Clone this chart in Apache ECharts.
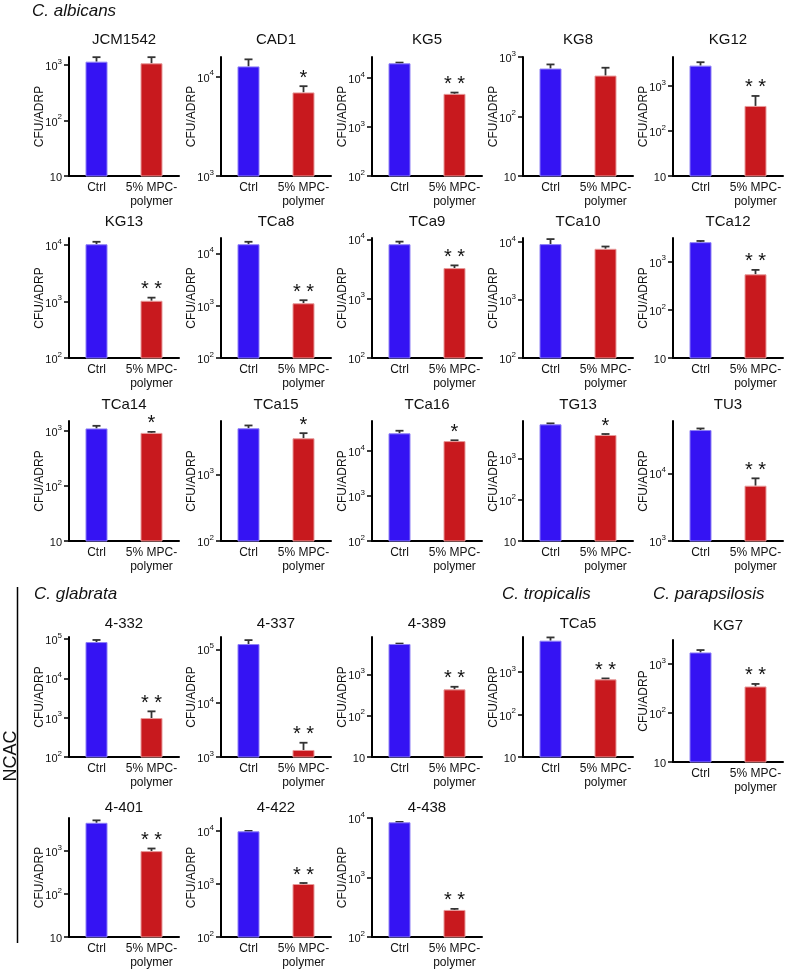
<!DOCTYPE html>
<html>
<head>
<meta charset="utf-8">
<script src="https://cdn.jsdelivr.net/npm/echarts@6/dist/echarts.min.js"></script>
<style>
html,body{margin:0;padding:0;background:#fff;}
#main{width:787px;height:970px;}
</style>
</head>
<body>
<div id="main"></div>
<script>
// data (CFU/ADRP, log scale)
var groups = ['Ctrl', '5% MPC-\npolymer'];
var strains = ['JCM1542','CAD1','KG5','KG8','KG12',
               'KG13','TCa8','TCa9','TCa10','TCa12',
               'TCa14','TCa15','TCa16','TG13','TU3',
               '4-332','4-337','4-389','TCa5','KG7',
               '4-401','4-422','4-438'];
var ctrlMean   = [1145,12700,20200,640,2830, 10300,14900,8240,9250,2540, 1120,4900,24700,7000,43600, 84000,125000,5420,5450,1740, 4560,9860,8470];
var ctrlErrTop = [1380,14960,20900,750,3370, 11400,16600,9120,11300,2690, 1250,5400,28200,7400,46000, 95000,148000,5550,6500,1950, 5200,10050,8600];
var mpcMean    = [1070,6950,4790,487,360, 1030,1110,3270,7680,546, 930,3470,16600,3850,6560, 980,1350,433,670,350, 1000,1000,285];
var mpcErrTop  = [1380,8030,5090,660,600, 1170,1270,3630,8410,675, 970,4140,17300,4070,8430, 1450,1840,500,705,395, 1150,1045,297];
var stars = ['','*','**','','**', '**','**','**','','**', '*','*','*','*','**', '**','**','**','**','**', '**','**','**'];
var yMin = [10,1000,100,10,10, 100,100,100,100,10, 10,100,100,10,1000, 100,1000,10,10,10, 10,100,100];
var yMax = [1390,15800,27200,1000,4400, 13300,19600,10500,11800,3100, 1530,6300,46400,8450,59300, 113000,169000,8000,6650,3130, 5900,17600,10000];

// layout
var colX = [69, 221, 372, 523, 673];
var rowTop = [57, 238, 421, 637, 818];
var rowBottom = [176, 358, 541, 757, 937];
var titleY = [40, 222, 405, 624, 808];
var panelW = 110;

var font = '"Liberation Sans", Arial, sans-serif';
var blue = '#3513f3', red = '#c8191e';

var myChart = echarts.init(document.getElementById('main'));

// decade values between min and max
function decades(min, max) {
	var out = [];
	for (var e = Math.round(Math.log10(min)); Math.pow(10, e) <= max * 1.001; e++) {
		out.push(Math.pow(10, e));
	}
	return out;
}

function tickFmt(v) {
	var e = Math.log10(v);
	if (Math.abs(e - Math.round(e)) > 0.01) return '';
	e = Math.round(e);
	if (e === 1) return '{b|10}';
	return '{b|10}{s|' + e + '}';
}

// error bar (upper whisker) + significance stars
function makeErr(i) {
	return function(params, api) {
		var x0 = api.value(0);
		var p1 = api.coord([x0, api.value(1)]);
		var p2 = api.coord([x0, api.value(2)]);
		var st = {stroke: '#333', lineWidth: 1.8};
		var kids = [
			{type: 'line', shape: {x1: p1[0], y1: p1[1], x2: p2[0], y2: p2[1]}, style: st},
			{type: 'line', shape: {x1: p2[0] - 4, y1: p2[1], x2: p2[0] + 4, y2: p2[1]}, style: st}
		];
		if (x0 === 1 && stars[i]) {
			kids.push({type: 'text', x: p2[0], y: p2[1] + 2,
				style: {text: stars[i].split('').join(' '), font: '20px ' + font,
					textAlign: 'center', textVerticalAlign: 'bottom', fill: '#111'}});
		}
		return {type: 'group', children: kids};
	};
}

var grids = [], xAxes = [], yAxes = [], series = [], graphics = [];
for (var i = 0; i < strains.length; i++) {
	var r = Math.floor(i / 5), c = i % 5;
	var gTop = rowTop[r], gBottom = rowBottom[r], ty = titleY[r];
	if (strains[i] === 'KG7') { gTop = 640; gBottom = 762; ty = 626; }
	var dec = decades(yMin[i], yMax[i]);

	grids.push({left: colX[c], top: gTop, width: panelW, height: gBottom - gTop});
	xAxes.push({
		type: 'category', gridIndex: i, data: groups,
		axisLine: {lineStyle: {color: '#000', width: 2}},
		axisTick: {show: false},
		axisLabel: {color: '#111', fontSize: 12, fontFamily: font, margin: 5, lineHeight: 14, interval: 0}
	});
	yAxes.push({
		type: 'log', logBase: 10, gridIndex: i, min: yMin[i], max: yMax[i],
		name: 'CFU/ADRP', nameLocation: 'middle', nameGap: 23, nameMoveOverlap: false,
		nameTextStyle: {color: '#111', fontSize: 12, fontFamily: font},
		axisLine: {show: true, lineStyle: {color: '#000', width: 2}},
		axisTick: {show: true, length: 5, customValues: dec, lineStyle: {color: '#000', width: 1.5}},
		axisLabel: {
			customValues: dec, margin: 7, color: '#111', formatter: tickFmt,
			rich: {
				b: {fontSize: 11, fontFamily: font, color: '#111', verticalAlign: 'bottom', lineHeight: 15},
				s: {fontSize: 8, fontFamily: font, color: '#111', verticalAlign: 'top', lineHeight: 8}
			}
		},
		splitLine: {show: false}
	});
	series.push({
		type: 'bar', xAxisIndex: i, yAxisIndex: i, barWidth: 22, silent: true,
		data: [
			{value: ctrlMean[i], itemStyle: {color: blue, borderColor: '#8d7ff5', borderWidth: 1}},
			{value: mpcMean[i], itemStyle: {color: red, borderColor: '#e79a9a', borderWidth: 1}}
		]
	});
	series.push({
		type: 'custom', xAxisIndex: i, yAxisIndex: i, silent: true,
		data: [[0, ctrlMean[i], ctrlErrTop[i]], [1, mpcMean[i], mpcErrTop[i]]],
		renderItem: makeErr(i)
	});
	graphics.push({
		type: 'text', x: colX[c] + panelW / 2, y: ty,
		style: {text: strains[i], font: '15px ' + font, textAlign: 'center', textVerticalAlign: 'middle', fill: '#111'}
	});
}

function species(text, x, y) {
	return {type: 'text', x: x, y: y,
		style: {text: text, font: 'italic 17px ' + font, textAlign: 'left', textVerticalAlign: 'middle', fill: '#111'}};
}
graphics.push(species('C. albicans', 32, 11));
graphics.push(species('C. glabrata', 34, 594));
graphics.push(species('C. tropicalis', 502, 594));
graphics.push(species('C. parapsilosis', 653, 594));
graphics.push({type: 'line', shape: {x1: 17.5, y1: 587, x2: 17.5, y2: 943}, style: {stroke: '#000', lineWidth: 1.5}});
graphics.push({type: 'text', x: 11, y: 756, rotation: Math.PI / 2,
	style: {text: 'NCAC', font: '18px ' + font, textAlign: 'center', textVerticalAlign: 'middle', fill: '#111'}});

var options = {
	animation: false,
	backgroundColor: '#fff',
	grid: grids,
	xAxis: xAxes,
	yAxis: yAxes,
	series: series,
	graphic: graphics
};
myChart.setOption(options);
</script>
</body>
</html>
